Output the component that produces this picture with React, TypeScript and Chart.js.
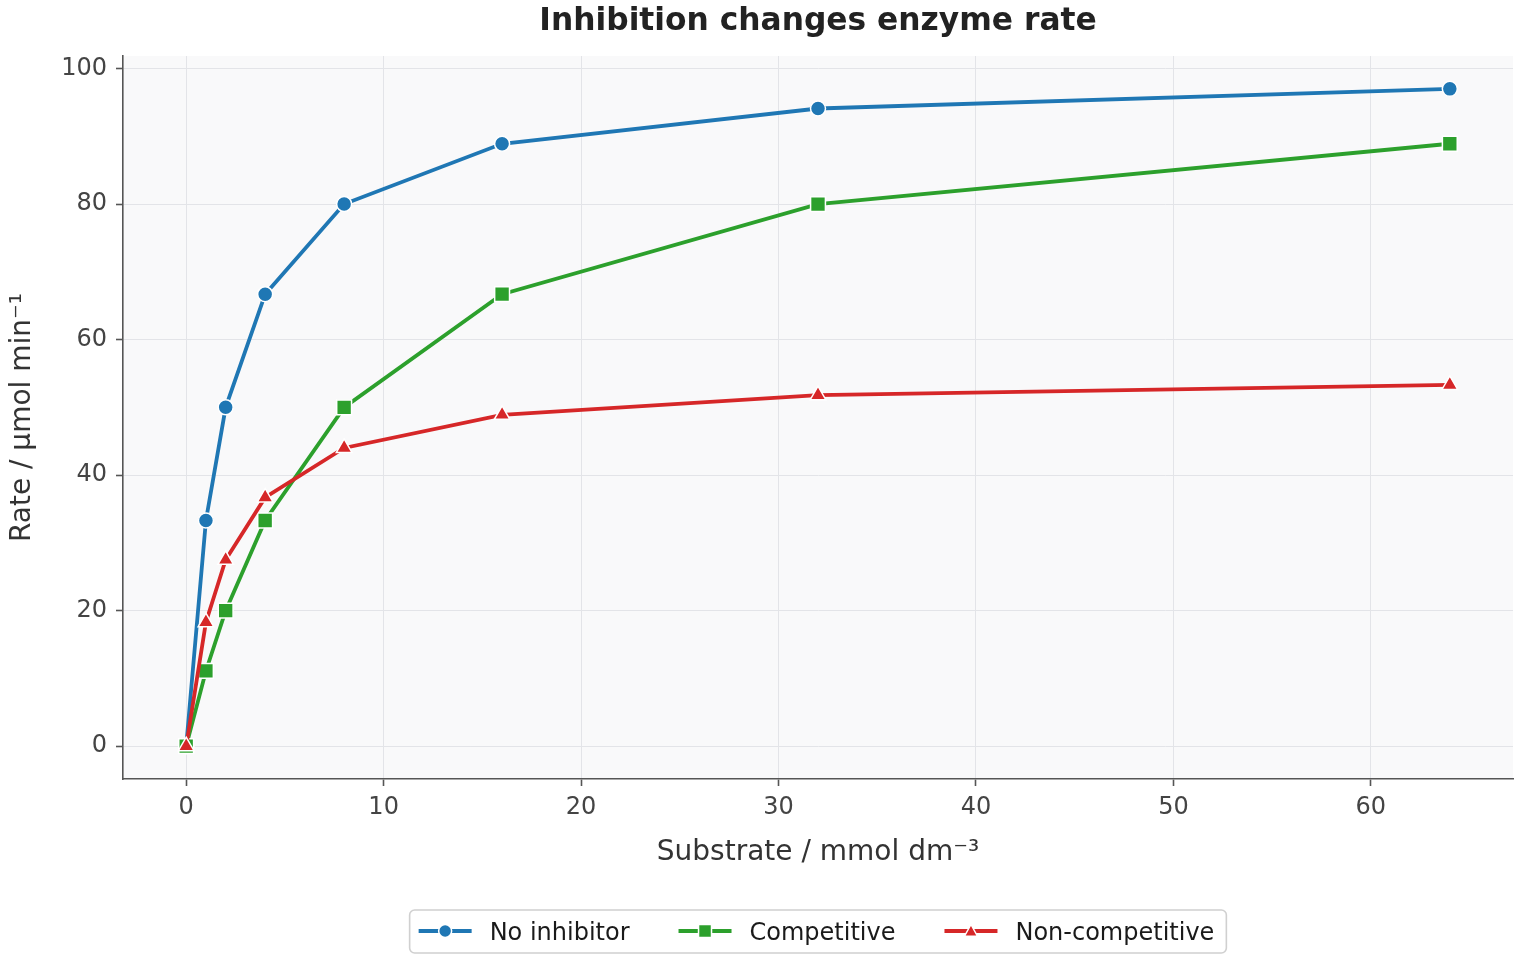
import React, { useEffect, useRef } from "react";
import { Chart, registerables } from "chart.js";

Chart.register(...registerables);

const TITLE = "Inhibition changes enzyme rate";
const X_LABEL = "Substrate / mmol dm⁻³";
const Y_LABEL = "Rate / µmol min⁻¹";

const SUBSTRATE = [0, 1, 2, 4, 8, 16, 32, 64];
const NO_INHIBITOR = [0, 33.3, 50.0, 66.7, 80.0, 88.9, 94.1, 97.0];
const COMPETITIVE = [0, 11.1, 20.0, 33.3, 50.0, 66.7, 80.0, 88.9];
const NON_COMPETITIVE = [0, 18.3, 27.5, 36.7, 44.0, 48.9, 51.8, 53.3];

const SERIES_NAMES = ["No inhibitor", "Competitive", "Non-competitive"];
const SERIES_COLORS = ["#1f77b4", "#2ca02c", "#d62728"];
const SERIES_MARKERS = ["circle", "rect", "triangle"];

const X_TICKS = [0, 10, 20, 30, 40, 50, 60];
const Y_TICKS = [0, 20, 40, 60, 80, 100];
const X_RANGE = [-3.2, 67.2];
const Y_RANGE = [-4.85, 101.85];

const FAMILY = '"DejaVu Sans", "Liberation Sans", sans-serif';

const ZERO_PAD = () => ({ left: 0, right: 0, top: 0, bottom: 0 });

function drawMarker(ctx: CanvasRenderingContext2D, style: string, x: number, y: number, size: number, color: string) {
  ctx.save();
  ctx.fillStyle = color;
  ctx.strokeStyle = "#ffffff";
  ctx.lineWidth = 1.5;
  ctx.beginPath();
  const h = size / 2;
  if (style === "circle") {
    ctx.arc(x, y, h, 0, Math.PI * 2);
  } else if (style === "rect") {
    ctx.rect(x - h, y - h, size, size);
  } else {
    ctx.moveTo(x, y - h);
    ctx.lineTo(x + h, y + h * 0.8);
    ctx.lineTo(x - h, y + h * 0.8);
    ctx.closePath();
  }
  ctx.fill();
  ctx.stroke();
  ctx.restore();
}

const decorPlugin = {
  id: "decor",
  beforeDraw(chart: any) {
    const { ctx, chartArea } = chart;
    ctx.save();
    ctx.fillStyle = "#ffffff";
    ctx.fillRect(0, 0, chart.width, chart.height);
    ctx.fillStyle = "#f9f9fa";
    ctx.fillRect(chartArea.left, chartArea.top, chartArea.right - chartArea.left, chartArea.bottom - chartArea.top);
    ctx.restore();
  },
  afterDraw(chart: any) {
    const { ctx, chartArea } = chart;
    const cx = (chartArea.left + chartArea.right) / 2;
    ctx.save();
    // Title
    ctx.font = `bold 31.3px ${FAMILY}`;
    ctx.fillStyle = "#222222";
    ctx.textAlign = "center";
    ctx.textBaseline = "alphabetic";
    ctx.fillText(TITLE, cx, 30);

    // Legend
    ctx.font = `24px ${FAMILY}`;
    const handleLen = 53;
    const handlePad = 18;
    const colSpace = 49;
    const padL = 9;
    const padR = 12;
    const widths = SERIES_NAMES.map((n) => ctx.measureText(n).width);
    let total = padL + padR + colSpace * (SERIES_NAMES.length - 1);
    widths.forEach((w) => (total += handleLen + handlePad + w));
    const boxLeft = cx - total / 2;
    const boxTop = 910;
    const boxH = 43;
    const r = 5;
    ctx.beginPath();
    ctx.moveTo(boxLeft + r, boxTop);
    ctx.lineTo(boxLeft + total - r, boxTop);
    ctx.arcTo(boxLeft + total, boxTop, boxLeft + total, boxTop + r, r);
    ctx.lineTo(boxLeft + total, boxTop + boxH - r);
    ctx.arcTo(boxLeft + total, boxTop + boxH, boxLeft + total - r, boxTop + boxH, r);
    ctx.lineTo(boxLeft + r, boxTop + boxH);
    ctx.arcTo(boxLeft, boxTop + boxH, boxLeft, boxTop + boxH - r, r);
    ctx.lineTo(boxLeft, boxTop + r);
    ctx.arcTo(boxLeft, boxTop, boxLeft + r, boxTop, r);
    ctx.closePath();
    ctx.fillStyle = "#ffffff";
    ctx.fill();
    ctx.strokeStyle = "#d0d0d0";
    ctx.lineWidth = 1.6;
    ctx.stroke();

    let x = boxLeft + padL;
    const ly = boxTop + 21;
    SERIES_NAMES.forEach((name, i) => {
      ctx.strokeStyle = SERIES_COLORS[i];
      ctx.lineWidth = 3.8;
      ctx.beginPath();
      ctx.moveTo(x, ly);
      ctx.lineTo(x + handleLen, ly);
      ctx.stroke();
      drawMarker(ctx, SERIES_MARKERS[i], x + handleLen / 2, ly, 13, SERIES_COLORS[i]);
      ctx.fillStyle = "#1a1a1a";
      ctx.textAlign = "left";
      ctx.textBaseline = "alphabetic";
      ctx.fillText(name, x + handleLen + handlePad, boxTop + 29.5);
      x += handleLen + handlePad + widths[i] + colSpace;
    });
    ctx.restore();
  },
};

export default function App() {
  const canvasRef = useRef<HTMLCanvasElement | null>(null);

  useEffect(() => {
    const canvas = canvasRef.current;
    if (!canvas) return;
    const seriesValues = [NO_INHIBITOR, COMPETITIVE, NON_COMPETITIVE];
    const radii = [7.5, 10.5, 9];
    const datasets = seriesValues.map((vals, i) => ({
      label: SERIES_NAMES[i],
      data: SUBSTRATE.map((s, j) => ({ x: s, y: vals[j] })),
      borderColor: SERIES_COLORS[i],
      backgroundColor: SERIES_COLORS[i],
      borderWidth: 3.8,
      pointStyle: SERIES_MARKERS[i],
      pointRadius: radii[i],
      pointBackgroundColor: SERIES_COLORS[i],
      pointBorderColor: "#ffffff",
      pointBorderWidth: 1.5,
      tension: 0,
      clip: false,
      order: 2 - i,
    }));

    const tickFont = { size: 24, family: FAMILY };
    const labelFont = { size: 28, family: FAMILY };

    const chart = new Chart(canvas, {
      type: "line",
      data: { datasets } as any,
      options: {
        responsive: false,
        animation: false,
        devicePixelRatio: 1,
        layout: { autoPadding: false, padding: { top: 56, right: 7, bottom: 86, left: 0 } },
        plugins: {
          legend: { display: false },
          title: { display: false },
          tooltip: { enabled: false },
        },
        scales: {
          x: {
            type: "linear",
            min: X_RANGE[0],
            max: X_RANGE[1],
            afterBuildTicks: (s: any) => {
              s.ticks = X_TICKS.map((v) => ({ value: v }));
            },
            afterFit: (s: any) => {
              s.height = 95;
              s.paddingLeft = 0;
              s.paddingRight = 0;
              s.getPadding = ZERO_PAD;
            },
            grid: {
              color: "#e3e4e8",
              lineWidth: 1,
              tickColor: "#555555",
              tickLength: 7,
              tickWidth: 1.6,
              drawTicks: true,
            },
            border: { display: true, color: "#555555", width: 1.6 },
            ticks: {
              color: "#444444",
              font: tickFont,
              padding: 7,
              maxRotation: 0,
              autoSkip: false,
            },
            title: {
              display: true,
              text: X_LABEL,
              color: "#333333",
              font: labelFont,
              padding: { top: 0, bottom: 4 },
            },
          },
          y: {
            type: "linear",
            min: Y_RANGE[0],
            max: Y_RANGE[1],
            afterBuildTicks: (s: any) => {
              s.ticks = Y_TICKS.map((v) => ({ value: v }));
            },
            afterFit: (s: any) => {
              s.width = 123;
              s.paddingTop = 0;
              s.paddingBottom = 0;
              s.getPadding = ZERO_PAD;
            },
            grid: {
              color: "#e3e4e8",
              lineWidth: 1,
              tickColor: "#555555",
              tickLength: 7,
              tickWidth: 1.6,
              drawTicks: true,
            },
            border: { display: true, color: "#555555", width: 1.6 },
            ticks: {
              color: "#444444",
              font: tickFont,
              padding: 9,
              autoSkip: false,
            },
            title: {
              display: true,
              text: Y_LABEL,
              color: "#333333",
              font: labelFont,
              padding: { top: 6, bottom: 0 },
            },
          },
        },
      } as any,
      plugins: [decorPlugin],
    });
    return () => chart.destroy();
  }, []);

  return (
    <div style={{ position: "absolute", left: 0, top: 0, width: 1520, height: 960, background: "#ffffff" }}>
      <canvas ref={canvasRef} width={1520} height={960} style={{ width: 1520, height: 960, display: "block" }} />
    </div>
  );
}
